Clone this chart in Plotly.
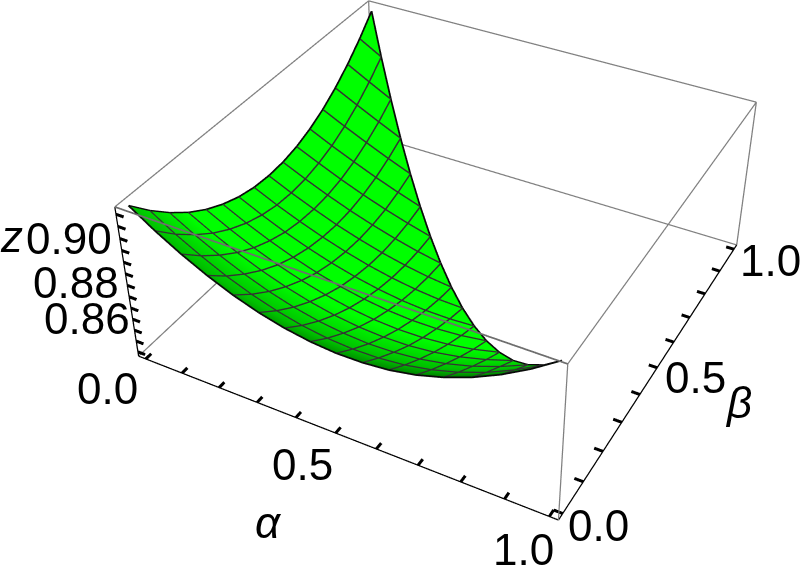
import plotly.graph_objects as go

# Surface heights: one row per alpha = i/16, beta = j/16 (alpha + beta <= 1)
z_rows = [
 [.9124,.9042,.8971,.8910,.8861,.8823,.8795,.8778,.8772,.8776,.8791,.8817,.8853,.8900,.8958,.9026,.9104],
 [.9055,.8977,.8911,.8854,.8808,.8772,.8746,.8730,.8725,.8730,.8745,.8769,.8804,.8849,.8904,.8969],
 [.8994,.8921,.8858,.8804,.8760,.8727,.8702,.8688,.8683,.8687,.8701,.8725,.8758,.8800,.8852],
 [.8941,.8871,.8812,.8761,.8719,.8687,.8664,.8650,.8644,.8648,.8661,.8683,.8714,.8753],
 [.8896,.8830,.8773,.8725,.8685,.8653,.8631,.8617,.8611,.8614,.8625,.8645,.8673],
 [.8860,.8797,.8742,.8696,.8657,.8626,.8604,.8589,.8582,.8584,.8593,.8610],
 [.8833,.8772,.8719,.8674,.8636,.8606,.8583,.8567,.8559,.8558,.8565],
 [.8815,.8756,.8705,.8660,.8622,.8592,.8568,.8551,.8541,.8538],
 [.8806,.8749,.8698,.8654,.8616,.8585,.8560,.8541,.8529],
 [.8807,.8751,.8701,.8656,.8618,.8586,.8559,.8538],
 [.8817,.8762,.8712,.8667,.8628,.8594,.8565],
 [.8838,.8783,.8733,.8687,.8646,.8610],
 [.8870,.8814,.8763,.8716,.8673],
 [.8912,.8855,.8803,.8753],
 [.8965,.8907,.8852],
 [.9029,.8969],
 [.9104],
]
rng_a = [-0.02, 1.02]
rng_b = [-0.02, 1.02]
rng_z = [0.848, 0.913]
ticks_ab = [0, .1, .2, .3, .4, .5, .6, .7, .8, .9, 1.0]
ticks_z = [.85, .855, .86, .865, .87, .875, .88, .885, .89, .895, .90, .905, .91]

# Plotly's camera has a fixed 45 degree field of view; the reference has a much longer lens,
# so the scene is drawn on a larger canvas that is shifted to line up with the window.
H = 1270.5; W = 1778.6
left = 451.0 - W / 2; top = 227.0 - H / 2
PAD = 1.02

def wide(r):
    c = (r[0] + r[1]) / 2; w = (r[1] - r[0]) / 2 * PAD
    return [c - w, c + w]

n = len(z_rows) - 1
xs, ys, zs, idx = [], [], [], {}
for i, row in enumerate(z_rows):
    for j, v in enumerate(row):
        idx[(i, j)] = len(xs)
        xs.append(i / n); ys.append(j / n); zs.append(v)
I, J, K = [], [], []
for i in range(n):
    for j in range(n - i):
        I.append(idx[(i, j)]); J.append(idx[(i + 1, j)]); K.append(idx[(i, j + 1)])
        if (i + 1, j + 1) in idx:
            I.append(idx[(i + 1, j)]); J.append(idx[(i + 1, j + 1)]); K.append(idx[(i, j + 1)])

fig = go.Figure()
shade = [y + 0.12 * (1 - x) for x, y in zip(xs, ys)]
fig.add_trace(go.Mesh3d(x=xs, y=ys, z=zs, i=I, j=J, k=K, intensity=shade, cmin=0, cmax=1,
    colorscale=[[0, '#004d00'], [0.06, '#009000'], [0.12, '#00c000'], [0.3, '#00ff00'], [1, '#00ff00']],
    showscale=False, lighting=dict(ambient=1, diffuse=0, specular=0, fresnel=0), hoverinfo='skip'))

off = 0.0002
lx, ly, lz, bx, by, bz = [], [], [], [], [], []
for i in range(n + 1):
    t = (bx, by, bz) if i == 0 else (lx, ly, lz)
    for j in range(n + 1 - i):
        t[0].append(i / n); t[1].append(j / n); t[2].append(z_rows[i][j] + off)
    t[0].append(None); t[1].append(None); t[2].append(None)
for j in range(n + 1):
    t = (bx, by, bz) if j == 0 else (lx, ly, lz)
    for i in range(n + 1 - j):
        t[0].append(i / n); t[1].append(j / n); t[2].append(z_rows[i][j] + off)
    t[0].append(None); t[1].append(None); t[2].append(None)
for i in range(n + 1):
    bx.append(i / n); by.append((n - i) / n); bz.append(z_rows[i][n - i] + off)
fig.add_trace(go.Scatter3d(x=lx, y=ly, z=lz, mode='lines', line=dict(color='#333333', width=3), hoverinfo='skip'))
fig.add_trace(go.Scatter3d(x=bx, y=by, z=bz, mode='lines', line=dict(color='#0a0a0a', width=3.5), hoverinfo='skip'))

A0, A1 = rng_a; B0, B1 = rng_b; Z0, Z1 = rng_z
edges = [((A1, B0, Z1), (A1, B1, Z1)), ((A1, B1, Z1), (A0, B1, Z1)),
         ((A0, B1, Z1), (A0, B0, Z1)), ((A0, B1, Z0), (A1, B1, Z0)), ((A0, B1, Z0), (A0, B0, Z0)),
         ((A1, B0, Z0), (A1, B0, Z1)), ((A1, B1, Z0), (A1, B1, Z1)), ((A0, B1, Z0), (A0, B1, Z1))]
ex, ey, ez = [], [], []
for a, b in edges:
    ex += [a[0], b[0], None]; ey += [a[1], b[1], None]; ez += [a[2], b[2], None]
fig.add_trace(go.Scatter3d(x=ex, y=ey, z=ez, mode='lines', line=dict(color='#808080', width=2.5), hoverinfo='skip'))
fig.add_trace(go.Scatter3d(x=[A0, A1], y=[B0, B0], z=[Z1, Z1], mode='lines', line=dict(color='#6e6e6e', width=3.5), hoverinfo='skip'))

ax = [A0, A1, None, A1, A1, None, A0, A0]
ay = [B0, B0, None, B0, B1, None, B0, B0]
az = [Z0, Z0, None, Z0, Z0, None, Z0, Z1]
fig.add_trace(go.Scatter3d(x=ax, y=ay, z=az, mode='lines', line=dict(color='black', width=2.5), hoverinfo='skip'))

tx, ty, tz = [], [], []
for t in ticks_ab:
    tx += [t, t, None]; ty += [B0, B0 + 0.02, None]; tz += [Z0, Z0, None]
    tx += [A1, A1 - 0.02, None]; ty += [t, t, None]; tz += [Z0, Z0, None]
for t in ticks_z:
    tx += [A0, A0 + 0.02, None]; ty += [B0, B0, None]; tz += [t, t, None]
fig.add_trace(go.Scatter3d(x=tx, y=ty, z=tz, mode='lines', line=dict(color='black', width=6), hoverinfo='skip'))

font = dict(family='Liberation Sans', size=44, color='black')
def lab(x, y, z, t, dx, dy):
    return dict(x=x, y=y, z=z, text=t, showarrow=False, xshift=dx, yshift=dy, font=font, xanchor='center', yanchor='middle')
anns = [lab(A0, B0, .90, '0.90', -51, 0), lab(A0, B0, .88, '0.88', -51, 3), lab(A0, B0, .86, '0.86', -47, 12),
        lab(A0, B0, .90, '<i>z</i>', -108, 2),
        lab(0, B0, Z0, '0.0', -38, -30), lab(.5, B0, Z0, '0.5', -33, -31), lab(1, B0, Z0, '1.0', -26, -33),
        lab(.5, B0, Z0, '<i>α</i>', -67, -89),
        lab(A1, 0, Z0, '0.0', 36, -12), lab(A1, .5, Z0, '0.5', 38, -10), lab(A1, 1, Z0, '1.0', 37, -11),
        lab(A1, .5, Z0, '<i>β</i>', 81, -35)]

fig.update_layout(width=W, height=H, margin=dict(l=0, r=0, t=0, b=0), showlegend=False, paper_bgcolor='white',
    scene=dict(xaxis=dict(visible=False, range=wide(rng_a)), yaxis=dict(visible=False, range=wide(rng_b)),
               zaxis=dict(visible=False, range=wide(rng_z)), aspectmode='manual',
               aspectratio=dict(x=PAD, y=0.9931 * PAD, z=0.3961 * PAD), annotations=anns,
               camera=dict(eye=dict(x=1.2843, y=-2.3811, z=1.9884), center=dict(x=0, y=0, z=0), up=dict(x=0, y=0, z=1))))
post = ("var g=document.getElementById('{plot_id}');g.style.position='fixed';g.style.left='%.1fpx';g.style.top='%.1fpx';"
        "document.body.style.margin='0';document.body.style.overflow='hidden';document.documentElement.style.overflow='hidden';" % (left, top))
fig.write_html("out.html", post_script=post, config=dict(displayModeBar=False))
